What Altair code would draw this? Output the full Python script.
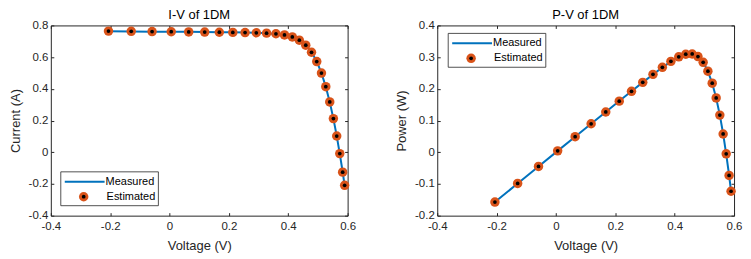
import altair as alt
import pandas as pd

voltage = [-0.2057, -0.1291, -0.0588, 0.0057, 0.0646, 0.1185, 0.1678, 0.2132, 0.2545,
           0.2924, 0.3269, 0.3585, 0.3873, 0.4137, 0.4373, 0.4590, 0.4784, 0.4960,
           0.5119, 0.5265, 0.5398, 0.5521, 0.5633, 0.5736, 0.5833, 0.5900]
current_measured = [0.7640, 0.7620, 0.7605, 0.7605, 0.7600, 0.7590, 0.7570, 0.7570, 0.7555,
                    0.7540, 0.7505, 0.7465, 0.7385, 0.7280, 0.7065, 0.6755, 0.6320, 0.5730,
                    0.4990, 0.4130, 0.3165, 0.2120, 0.1035, -0.0100, -0.1230, -0.2100]
current_estimated = [0.7641, 0.7627, 0.7614, 0.7602, 0.7591, 0.7580, 0.7571, 0.7561, 0.7551,
                     0.7537, 0.7514, 0.7474, 0.7401, 0.7274, 0.7070, 0.6753, 0.6307, 0.5719,
                     0.4996, 0.4136, 0.3175, 0.2122, 0.1023, -0.0087, -0.1255, -0.2085]
series_names = ["Measured", "Estimated"]
x_ticks = [-0.4, -0.2, 0.0, 0.2, 0.4, 0.6]
iv_ticks = [-0.4, -0.2, 0.0, 0.2, 0.4, 0.6, 0.8]
pv_ticks = [-0.2, -0.1, 0.0, 0.1, 0.2, 0.3, 0.4]

df = pd.DataFrame({"V": voltage, "Im": current_measured, "Ie": current_estimated})
df["Pm"] = df["V"] * df["Im"]
df["Pe"] = df["V"] * df["Ie"]

FONT = "Liberation Sans"
DARK = "#262626"
BLUE = "#0072BD"
ORANGE = "#D95319"
LABEL_EXPR = "toString(round(datum.value*10)/10)"


def main_axis(orient, title, ticks, label_pad, title_pad):
    return alt.Axis(orient=orient, title=title, values=ticks, labelExpr=LABEL_EXPR,
                    labelFont=FONT, labelFontSize=11.5, labelColor=DARK, labelFlush=False,
                    titleFont=FONT, titleFontSize=13, titleFontWeight="normal",
                    titleColor=DARK, grid=False, domain=False, tickColor=DARK,
                    tickSize={"expr": "-3"}, labelPadding=label_pad,
                    titlePadding=title_pad)


def mirror_axis(orient, ticks):
    return alt.Axis(orient=orient, title=None, values=ticks, labels=False, grid=False,
                    domain=False, tickColor=DARK, tickSize={"expr": "-3"},
                    minExtent=0, maxExtent=0, offset=0)


def panel(title, ycol_m, ycol_e, ytitle, yticks, legend_pos):
    xs = alt.Scale(domain=[x_ticks[0], x_ticks[-1]], nice=False, zero=False)
    ys = alt.Scale(domain=[yticks[0], yticks[-1]], nice=False, zero=False)
    base = alt.Chart(df)
    line = base.mark_line(color=BLUE, strokeWidth=2).encode(
        x=alt.X("V:Q", scale=xs, axis=main_axis("bottom", "Voltage (V)", x_ticks, 8, 7)),
        y=alt.Y(f"{ycol_m}:Q", scale=ys, axis=main_axis("left", ytitle, yticks, 6, 6)),
        order="V:Q",
    )
    outer = base.mark_circle(color=ORANGE, size=90, opacity=1).encode(
        x=alt.X("V:Q", scale=xs, axis=mirror_axis("top", x_ticks)),
        y=alt.Y(f"{ycol_e}:Q", scale=ys, axis=mirror_axis("right", yticks)),
    )
    inner = base.mark_circle(color="black", size=14, opacity=1).encode(
        x=alt.X("V:Q", scale=xs, axis=None),
        y=alt.Y(f"{ycol_e}:Q", scale=ys, axis=None),
    )
    lx, ly = legend_pos
    one = pd.DataFrame({"k": [0]})
    box = alt.Chart(one).mark_rect(fill="white", stroke=DARK, strokeWidth=0.8).encode(
        x=alt.value(lx), x2=alt.value(lx + 98), y=alt.value(ly), y2=alt.value(ly + 34))
    leg_line = alt.Chart(one).mark_rule(color=BLUE, strokeWidth=2).encode(
        x=alt.value(lx + 4), x2=alt.value(lx + 44), y=alt.value(ly + 10))
    leg_o = alt.Chart(one).mark_circle(color=ORANGE, size=90, opacity=1).encode(
        x=alt.value(lx + 23), y=alt.value(ly + 25))
    leg_i = alt.Chart(one).mark_circle(color="black", size=14, opacity=1).encode(
        x=alt.value(lx + 23), y=alt.value(ly + 25))
    t1 = alt.Chart(pd.DataFrame({"name": [series_names[0]]})).mark_text(
        align="left", baseline="middle", font=FONT, fontSize=11, color="black").encode(
        text="name:N", x=alt.value(lx + 45), y=alt.value(ly + 10))
    t2 = alt.Chart(pd.DataFrame({"name": [series_names[1]]})).mark_text(
        align="left", baseline="middle", font=FONT, fontSize=11, color="black").encode(
        text="name:N", x=alt.value(lx + 46), y=alt.value(ly + 25))
    return alt.layer(line, outer, inner, box, leg_line, leg_o, leg_i, t1, t2).resolve_axis(
        x="independent", y="independent").properties(
        width=298, height=191,
        title=alt.Title(title, font=FONT, fontSize=13, fontWeight="normal",
                        color="black", offset=-3))


left = panel("I-V of 1DM", "Im", "Ie", "Current (A)", iv_ticks, (10, 147))
right = panel("P-V of 1DM", "Pm", "Pe", "Power (W)", pv_ticks, (11, 8))

chart = alt.hconcat(left, right, spacing=38).properties(padding=0).configure_view(
    stroke=DARK, strokeWidth=1)

chart.save("out.html", embed_options={"renderer": "svg", "actions": False})
